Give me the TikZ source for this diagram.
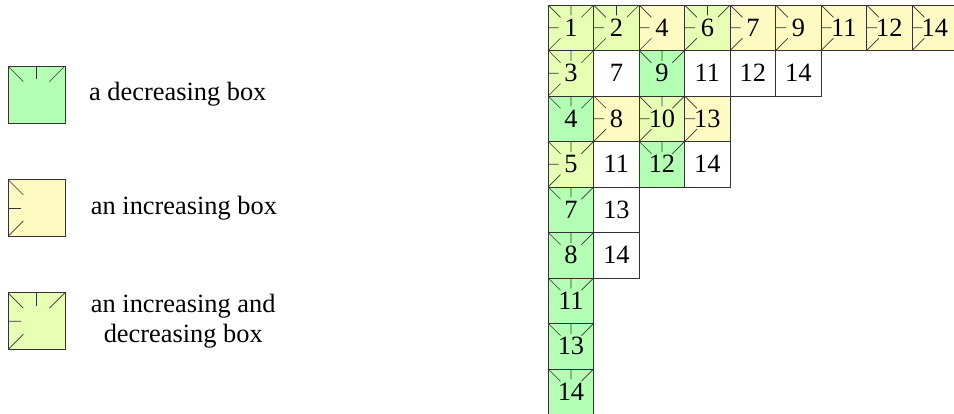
\documentclass[tikz,border=0pt]{standalone}
\usepackage{fontspec}
\setmainfont{Liberation Serif}
\usetikzlibrary{positioning,calc}
\definecolor{decgreen}{HTML}{B3FFB3}
\definecolor{incyellow}{HTML}{FFFAC2}
\definecolor{bothgreen}{HTML}{E6FFB3}

\tikzset{
  cell/.style={rectangle,draw=black!80,minimum size=1cm,inner sep=0pt,
    font=\fontsize{16.5}{19.5}\selectfont},
  topticks/.style={path picture={
    \draw (path picture bounding box.north west) -- ($(path picture bounding box.north west)!0.54!(path picture bounding box.center)$);
    \draw (path picture bounding box.north) -- ($(path picture bounding box.north)!0.46!(path picture bounding box.center)$);
    \draw (path picture bounding box.north east) -- ($(path picture bounding box.north east)!0.54!(path picture bounding box.center)$);}},
  leftticks/.style={path picture={
    \draw (path picture bounding box.north west) -- ($(path picture bounding box.north west)!0.54!(path picture bounding box.center)$);
    \draw (path picture bounding box.west) -- ($(path picture bounding box.west)!0.46!(path picture bounding box.center)$);
    \draw (path picture bounding box.south west) -- ($(path picture bounding box.south west)!0.54!(path picture bounding box.center)$);}},
  allticks/.style={path picture={
    \draw (path picture bounding box.north west) -- ($(path picture bounding box.north west)!0.54!(path picture bounding box.center)$);
    \draw (path picture bounding box.north) -- ($(path picture bounding box.north)!0.46!(path picture bounding box.center)$);
    \draw (path picture bounding box.north east) -- ($(path picture bounding box.north east)!0.54!(path picture bounding box.center)$);
    \draw (path picture bounding box.west) -- ($(path picture bounding box.west)!0.46!(path picture bounding box.center)$);
    \draw (path picture bounding box.south west) -- ($(path picture bounding box.south west)!0.54!(path picture bounding box.center)$);}},
  decbox/.style={cell,fill=decgreen,topticks},
  incbox/.style={cell,fill=incyellow,leftticks},
  bothbox/.style={cell,fill=bothgreen,allticks},
  plainbox/.style={cell,fill=white},
  keybox/.style={minimum size=1.25cm},
  keytext/.style={inner sep=0pt,align=center,font=\fontsize{16.5}{19}\selectfont}
}

\begin{document}
\begin{tikzpicture}
  \useasboundingbox (0,0) rectangle (20.97,-9.08);

  % legend
  \node[decbox,keybox]  (kdec)  at (0.80,-2.08) {};
  \node[incbox,keybox]  (kinc)  at (0.80,-4.57) {};
  \node[bothbox,keybox] (kboth) at (0.80,-7.06) {};
  \node[keytext] (tdec)  [right=0.52cm of kdec]  {a decreasing box};
  \node[keytext] (tinc)  [right=0.56cm of kinc]  {an increasing box};
  \node[keytext] (tboth) [right=0.56cm of kboth] {an increasing and\\decreasing box};

  % the diagram
  \foreach \r/\c/\n/\k in {
      0/0/1/bothbox, 0/1/2/bothbox, 0/2/4/incbox, 0/3/6/bothbox, 0/4/7/incbox,
      0/5/9/incbox, 0/6/11/incbox, 0/7/12/incbox, 0/8/14/incbox,
      1/0/3/bothbox, 1/1/7/plainbox, 1/2/9/decbox, 1/3/11/plainbox, 1/4/12/plainbox, 1/5/14/plainbox,
      2/0/4/decbox, 2/1/8/incbox, 2/2/10/bothbox, 2/3/13/incbox,
      3/0/5/bothbox, 3/1/11/plainbox, 3/2/12/decbox, 3/3/14/plainbox,
      4/0/7/decbox, 4/1/13/plainbox,
      5/0/8/decbox, 5/1/14/plainbox,
      6/0/11/decbox,
      7/0/13/decbox,
      8/0/14/decbox}
    \node[\k] (c\r-\c) at ({12.55+\c},{-0.61-\r}) {\n};
\end{tikzpicture}
\end{document}
